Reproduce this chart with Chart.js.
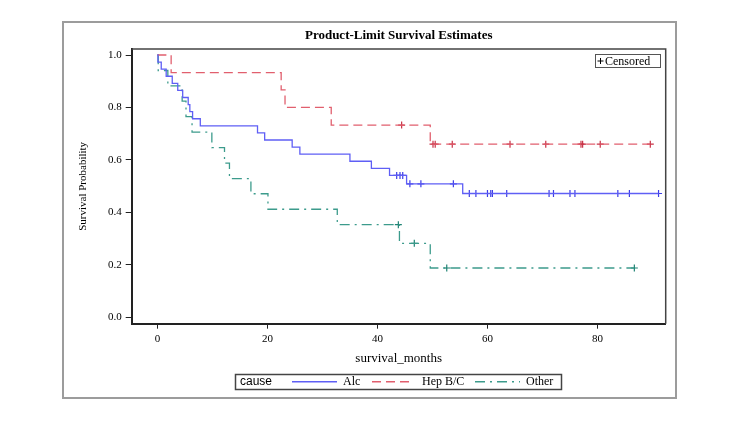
<!DOCTYPE html>
<html>
<head>
<meta charset="utf-8">
<script src="https://cdn.jsdelivr.net/npm/chart.js@4.4.1/dist/chart.umd.min.js"></script>
<style>
  html, body { margin: 0; padding: 0; background: #fff; }
</style>
</head>
<body>
<canvas id="grafico" width="750" height="422"></canvas>
<script>
// eixos
const xTicks = [0, 20, 40, 60, 80];
const yTicks = [0, 0.2, 0.4, 0.6, 0.8, 1.0];
const causas = ['Alc', 'Hep B/C', 'Other'];

// Alc: tempos dos degraus e sobrevida depois de cada degrau
const alcTempos = [0, 0.1, 0.7, 1.6, 2.7, 3.7, 4.6, 5.6, 5.9, 6.4, 7.8, 18.2, 19.5, 24.5, 25.9, 35.0, 38.9, 42.2, 45.3, 55.5, 91.1];
const alcSobrev = [1, 0.973, 0.946, 0.919, 0.892, 0.865, 0.838, 0.811, 0.784, 0.757, 0.730, 0.703, 0.676, 0.649, 0.622, 0.595, 0.568, 0.541, 0.509, 0.472, 0.472];
const alcCensura = [43.5, 44.1, 44.6, 45.9, 47.9, 53.8, 56.7, 57.9, 60.0, 60.6, 60.9, 63.5, 71.2, 72.0, 75.0, 75.9, 83.7, 85.8, 91.1];

// Hep B/C
const hepTempos = [0, 2.5, 22.5, 23.2, 31.6, 49.6, 89.6];
const hepSobrev = [1, 0.933, 0.867, 0.800, 0.733, 0.660, 0.660];
const hepCensura = [44.4, 50.1, 50.5, 53.6, 64.1, 70.6, 77.0, 77.3, 80.5, 89.6];

// Other
const outTempos = [0, 0.15, 1.9, 4.5, 5.2, 6.3, 9.9, 12.2, 13.1, 17.0, 20.1, 32.7, 44.0, 49.6, 86.7];
const outSobrev = [1, 0.941, 0.882, 0.824, 0.765, 0.706, 0.647, 0.588, 0.529, 0.471, 0.412, 0.353, 0.282, 0.188, 0.188];
const outCensura = [43.8, 46.7, 52.6, 86.7];

const fonte = '"Liberation Serif", "Times New Roman", serif';

const estilos = [
    { linha: 'rgb(95, 95, 245)', marca: 'rgb(60, 60, 230)', tracejado: [] },
    { linha: 'rgb(225, 95, 110)', marca: 'rgb(200, 50, 70)', tracejado: [9, 5] },
    { linha: 'rgb(60, 155, 140)', marca: 'rgb(30, 130, 115)', tracejado: [10, 5, 2, 5] }
];

function nivelEm(tempos, sobrev, t) {
    let s = sobrev[0];
    for (let i = 0; i < tempos.length; i++) {
        if (tempos[i] <= t) s = sobrev[i];
    }
    return s;
}

const grupos = [
    [alcTempos, alcSobrev, alcCensura],
    [hepTempos, hepSobrev, hepCensura],
    [outTempos, outSobrev, outCensura]
];

const datasets = [];
grupos.forEach(([tempos, sobrev, censura], i) => {
    datasets.push({
        label: causas[i],
        data: tempos.map((t, k) => ({ x: t, y: sobrev[k] })),
        stepped: true,
        borderColor: estilos[i].linha,
        borderDash: estilos[i].tracejado,
        borderWidth: 1.3,
        pointRadius: 0,
        fill: false
    });
    datasets.push({
        label: causas[i] + ' censored',
        data: censura.map(t => ({ x: t, y: nivelEm(tempos, sobrev, t) })),
        showLine: false,
        pointStyle: 'cross',
        pointRadius: 3.5,
        pointBorderWidth: 1.2,
        pointBorderColor: estilos[i].marca,
        pointBackgroundColor: estilos[i].marca
    });
});

const moldura = {
    id: 'moldura',
    beforeDraw(chart) {
        const ctx = chart.ctx;
        ctx.save();
        ctx.fillStyle = '#fff';
        ctx.fillRect(0, 0, chart.width, chart.height);
        ctx.restore();
    },
    afterDraw(chart) {
        const { ctx, chartArea: a } = chart;
        ctx.save();

        // moldura externa
        ctx.strokeStyle = '#9c9c9c';
        ctx.lineWidth = 2;
        ctx.strokeRect(63, 22, 613, 376);

        // topo e lado direito da area do grafico
        ctx.strokeStyle = '#444';
        ctx.lineWidth = 1.5;
        ctx.beginPath();
        ctx.moveTo(a.left, a.top);
        ctx.lineTo(a.right, a.top);
        ctx.lineTo(a.right, a.bottom);
        ctx.stroke();

        // titulo
        ctx.fillStyle = '#000';
        ctx.font = 'bold 13px ' + fonte;
        ctx.textAlign = 'center';
        ctx.textBaseline = 'middle';
        ctx.fillText('Product-Limit Survival Estimates', (a.left + a.right) / 2, 36);

        // caixa "Censored"
        ctx.strokeStyle = '#555';
        ctx.lineWidth = 1;
        ctx.strokeRect(595.5, 54.5, 65, 13);
        ctx.strokeStyle = '#000';
        ctx.beginPath();
        ctx.moveTo(597.5, 61); ctx.lineTo(603.5, 61);
        ctx.moveTo(600.5, 58); ctx.lineTo(600.5, 64);
        ctx.stroke();
        ctx.textAlign = 'left';
        ctx.font = '12px ' + fonte;
        ctx.fillText('Censored', 605, 61.5);

        // legenda
        ctx.strokeStyle = '#444';
        ctx.lineWidth = 1.5;
        ctx.strokeRect(235.5, 374.5, 326, 15);
        ctx.font = '12px "Liberation Sans", Arial, sans-serif';
        ctx.fillStyle = '#000';
        ctx.fillText('cause', 240, 382);
        const itens = [
            { x1: 292, x2: 337, tx: 343 },
            { x1: 372, x2: 414, tx: 422 },
            { x1: 475, x2: 520, tx: 526 }
        ];
        ctx.font = '12px ' + fonte;
        itens.forEach((it, i) => {
            ctx.strokeStyle = estilos[i].linha;
            ctx.lineWidth = 1.6;
            ctx.setLineDash(estilos[i].tracejado);
            ctx.beginPath();
            ctx.moveTo(it.x1, 381.8);
            ctx.lineTo(it.x2, 381.8);
            ctx.stroke();
            ctx.setLineDash([]);
            ctx.fillText(causas[i], it.tx, 382);
        });

        ctx.restore();
    }
};

new Chart(document.getElementById('grafico').getContext('2d'), {
    type: 'line',
    data: { datasets: datasets },
    options: {
        responsive: false,
        animation: false,
        layout: { padding: { left: 64, right: 84.3, top: 49, bottom: 52 } },
        plugins: {
            legend: { display: false },
            tooltip: { enabled: false }
        },
        scales: {
            x: {
                type: 'linear',
                min: -4.67,
                max: 92.4,
                afterBuildTicks: s => { s.ticks = xTicks.map(v => ({ value: v })); },
                afterFit: s => { s.height = 46.3; },
                ticks: { color: '#000', font: { family: fonte, size: 11 }, padding: 4 },
                grid: { drawOnChartArea: false, drawTicks: true, tickLength: 5, color: '#222' },
                border: { color: '#222', width: 2 },
                title: {
                    display: true,
                    text: 'survival_months',
                    color: '#000',
                    font: { family: fonte, size: 13 },
                    padding: { top: 0, bottom: 4 }
                }
            },
            y: {
                type: 'linear',
                min: -0.0244,
                max: 1.0229,
                afterBuildTicks: s => { s.ticks = yTicks.map(v => ({ value: v })); },
                afterFit: s => { s.width = 67.7; },
                ticks: {
                    color: '#000',
                    font: { family: fonte, size: 11 },
                    padding: 4,
                    callback: v => Number(v).toFixed(1)
                },
                grid: { drawOnChartArea: false, drawTicks: true, tickLength: 6, color: '#222' },
                border: { color: '#222', width: 2 },
                title: {
                    display: true,
                    text: 'Survival Probability',
                    color: '#000',
                    font: { family: fonte, size: 11 },
                    padding: { top: 13, bottom: 0 }
                }
            }
        }
    },
    plugins: [moldura]
});
</script>
</body>
</html>
